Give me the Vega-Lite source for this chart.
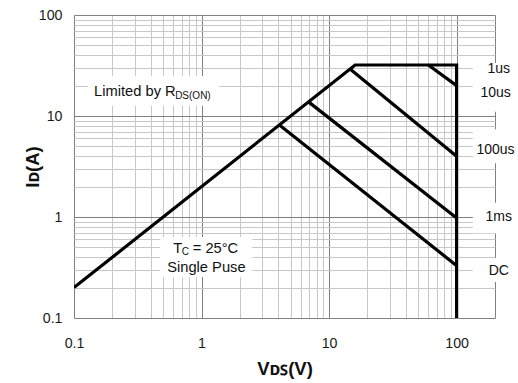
{
  "$schema": "https://vega.github.io/schema/vega-lite/v6.json",
  "width": 421,
  "height": 303,
  "autosize": {"type": "none"},
  "padding": {"left": 74, "top": 15, "right": 23, "bottom": 65},
  "background": "white",
  "config": {"view": {"stroke": null}, "font": "Liberation Sans"},
  "layer": [
    {
      "data": {"values": [
        {"x": 0.129, "x2": 1.38, "y": 12.6, "y2": 24.9},
        {"x": 0.474, "x2": 2.5, "y": 0.255, "y2": 0.634},
        {"x": 134, "x2": 330, "y": 11.0, "y2": 33.5},
        {"x": 134, "x2": 330, "y": 3.4, "y2": 7.4},
        {"x": 134, "x2": 330, "y": 0.69, "y2": 1.38},
        {"x": 134, "x2": 330, "y": 0.227, "y2": 0.39}
      ]},
      "mark": {"type": "rect", "fill": "white", "stroke": null},
      "encoding": {
        "x": {
          "field": "x", "type": "quantitative",
          "scale": {"type": "log", "domain": [0.1, 200], "nice": false},
          "axis": {
            "title": "Vᴅꜱ(V)",
            "titleFont": "Liberation Sans", "titleFontSize": 18.5, "titleFontWeight": "bold", "titleColor": "#111",
            "titlePadding": 9,
            "values": [0.1,0.2,0.3,0.4,0.5,0.6,0.7,0.8,0.9,1,2,3,4,5,6,7,8,9,10,20,30,40,50,60,70,80,90,100,200],
            "labelExpr": "(datum.value == 0.1 || datum.value == 1 || datum.value == 10 || datum.value == 100) ? datum.label : ''",
            "format": "~g",
            "labelFontSize": 14.2, "labelColor": "#1a1a1a", "labelPadding": 18,
            "ticks": false, "tickSize": 0, "domain": false,
            "labelFlush": false, "labelOverlap": false,
            "grid": true, "gridWidth": 1,
            "gridColor": {"condition": {"test": "datum.value == 0.1 || datum.value == 1 || datum.value == 10 || datum.value == 100 || datum.value == 200", "value": "#808080"}, "value": "#c8c8c8"}
          }
        },
        "x2": {"field": "x2"},
        "y": {
          "field": "y", "type": "quantitative",
          "scale": {"type": "log", "domain": [0.1, 100], "nice": false},
          "axis": {
            "title": "Iᴅ(A)",
            "titleFont": "Liberation Sans", "titleFontSize": 18.5, "titleFontWeight": "bold", "titleColor": "#111",
            "titlePadding": -4,
            "values": [0.1,0.2,0.3,0.4,0.5,0.6,0.7,0.8,0.9,1,2,3,4,5,6,7,8,9,10,20,30,40,50,60,70,80,90,100],
            "labelExpr": "(datum.value == 0.1 || datum.value == 1 || datum.value == 10 || datum.value == 100) ? datum.label : ''",
            "format": "~g",
            "labelFontSize": 14.2, "labelColor": "#1a1a1a", "labelPadding": 12,
            "ticks": false, "tickSize": 0, "domain": false,
            "labelFlush": false, "labelOverlap": false,
            "grid": true, "gridWidth": 1,
            "gridColor": {"condition": {"test": "datum.value == 0.1 || datum.value == 1 || datum.value == 10 || datum.value == 100", "value": "#808080"}, "value": "#c8c8c8"}
          }
        },
        "y2": {"field": "y2"}
      }
    },
    {
      "data": {"values": [
        {"curve": "limit", "ord": 1, "x": 0.1, "y": 0.2},
        {"curve": "limit", "ord": 2, "x": 16, "y": 32},
        {"curve": "limit", "ord": 3, "x": 100, "y": 32},
        {"curve": "limit", "ord": 4, "x": 100, "y": 0.1},
        {"curve": "10us", "ord": 1, "x": 60, "y": 32},
        {"curve": "10us", "ord": 2, "x": 100, "y": 20},
        {"curve": "100us", "ord": 1, "x": 14.6, "y": 29.2},
        {"curve": "100us", "ord": 2, "x": 100, "y": 4.0},
        {"curve": "1ms", "ord": 1, "x": 6.9, "y": 13.8},
        {"curve": "1ms", "ord": 2, "x": 100, "y": 0.98},
        {"curve": "DC", "ord": 1, "x": 4.08, "y": 8.16},
        {"curve": "DC", "ord": 2, "x": 100, "y": 0.33}
      ]},
      "mark": {"type": "line", "color": "black", "strokeWidth": 3.2, "strokeJoin": "miter", "clip": true},
      "encoding": {
        "x": {"field": "x", "type": "quantitative"},
        "y": {"field": "y", "type": "quantitative"},
        "detail": {"field": "curve"},
        "order": {"field": "ord"}
      }
    },
    {
      "data": {"values": [
        {"t": "Limited by R", "x": 0.1436, "y": 15.8},
        {"t": "T", "x": 0.5993, "y": 0.437},
        {"t": "= 25°C", "x": 0.853, "y": 0.437},
        {"t": "Single Puse", "x": 0.5378, "y": 0.287}
      ]},
      "mark": {"type": "text", "align": "left", "baseline": "alphabetic", "fontSize": 14.7, "color": "#111", "font": "Liberation Sans"},
      "encoding": {
        "x": {"field": "x", "type": "quantitative"},
        "y": {"field": "y", "type": "quantitative"},
        "text": {"field": "t"}
      }
    },
    {
      "data": {"values": [
        {"t": "DS(ON)", "x": 0.621, "y": 14.7},
        {"t": "C", "x": 0.699, "y": 0.4206}
      ]},
      "mark": {"type": "text", "align": "left", "baseline": "alphabetic", "fontSize": 10, "color": "#111", "font": "Liberation Sans"},
      "encoding": {
        "x": {"field": "x", "type": "quantitative"},
        "y": {"field": "y", "type": "quantitative"},
        "text": {"field": "t"}
      }
    },
    {
      "data": {"values": [
        {"t": "1us", "x": 214, "y": 29.1},
        {"t": "10us", "x": 202, "y": 16.8},
        {"t": "100us", "x": 202, "y": 4.61},
        {"t": "1ms", "x": 214, "y": 1.0},
        {"t": "DC", "x": 214, "y": 0.295}
      ]},
      "mark": {"type": "text", "align": "center", "baseline": "middle", "fontSize": 14, "color": "#111", "font": "Liberation Sans"},
      "encoding": {
        "x": {"field": "x", "type": "quantitative"},
        "y": {"field": "y", "type": "quantitative"},
        "text": {"field": "t"}
      }
    }
  ]
}
